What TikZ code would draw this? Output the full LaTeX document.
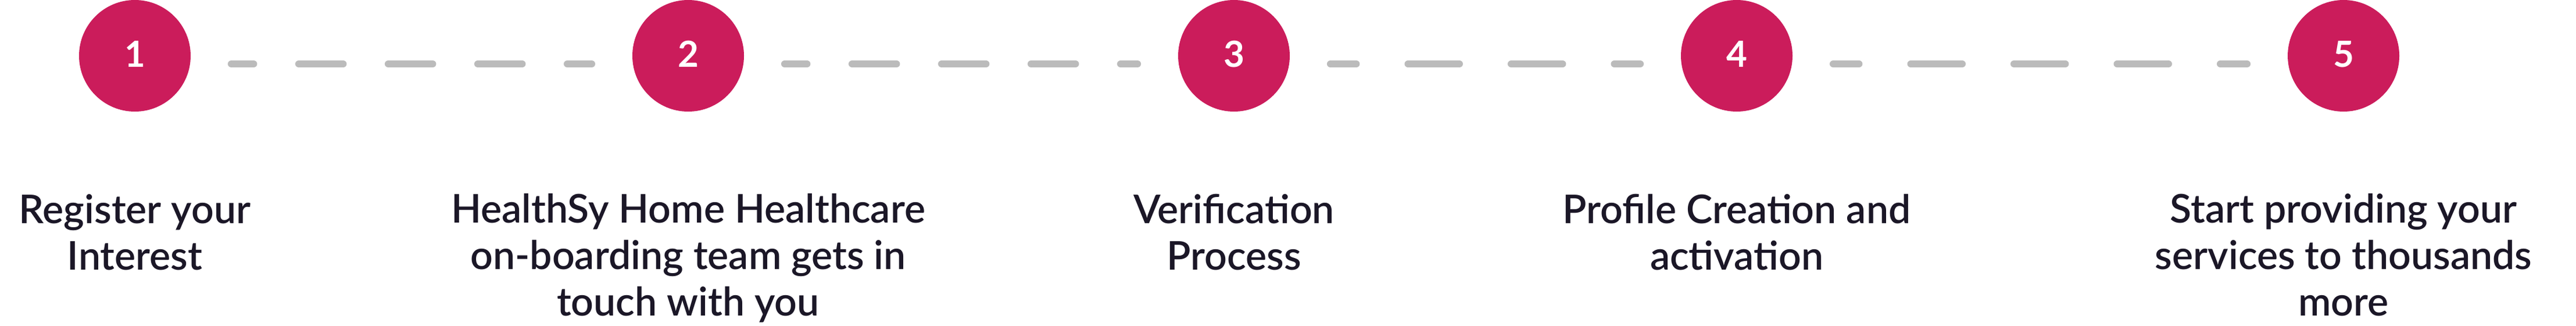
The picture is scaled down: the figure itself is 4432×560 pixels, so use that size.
\documentclass[tikz,border=0pt]{standalone}
\usepackage{fontspec}
\setmainfont{Lato}[UprightFont=* Semibold]
\newfontfamily\numfont{Lato}[UprightFont=* Bold]
\definecolor{stepred}{HTML}{CB1C5B}
\definecolor{dashgray}{HTML}{BBBBBB}
\definecolor{textdark}{HTML}{1B1727}
\begin{document}
\begin{tikzpicture}[x=1pt,y=-1pt,
  stepcircle/.style={circle, fill=stepred, minimum size=192pt, inner sep=0pt},
  stepnum/.style={text=white, font=\numfont\fontsize{62}{62}\selectfont, inner sep=0pt},
  steplabel/.style={anchor=base, align=center, text=textdark, font=\fontsize{68}{80}\selectfont, inner sep=0pt},
  linkbase/.style={draw=dashgray, line width=12.5pt, line cap=round, shorten >=70pt, shorten <=70pt},
  linkA/.style={linkbase, dash pattern=on 76pt off 78pt, dash phase=38pt},
  linkB/.style={linkbase, dash pattern=on 88pt off 89.5pt, dash phase=44pt}]
\useasboundingbox (0,0) rectangle (4432,560);
\node[stepcircle] (c1) at (232,96) {};
\node[stepcircle] (c2) at (1184,96) {};
\node[stepcircle] (c3) at (2123,96) {};
\node[stepcircle] (c4) at (2988,96) {};
\node[stepcircle] (c5) at (4032,96) {};
\node[stepnum] (n1) at (232,93) {1};
\node[stepnum] (n2) at (1184,93) {2};
\node[stepnum] (n3) at (2123,93) {3};
\node[stepnum] (n4) at (2988,93) {4};
\node[stepnum] (n5) at (4032,93) {5};
\draw[linkA] ([yshift=-14pt]c1.east) -- ([yshift=-14pt]c2.west);
\draw[linkA] ([yshift=-14pt]c2.east) -- ([yshift=-14pt]c3.west);
\draw[linkB] ([yshift=-14pt]c3.east) -- ([yshift=-14pt]c4.west);
\draw[linkB] ([yshift=-14pt]c4.east) -- ([yshift=-14pt]c5.west);
\node[steplabel] (t1) at (232,464) {Register your\\Interest};
\node[steplabel] (t2) at (1184,543) {HealthSy Home Healthcare\\on-boarding team gets in\\touch with you};
\node[steplabel] (t3) at (2123,464) {Verification\\Process};
\node[steplabel] (t4) at (2988,464) {Profile Creation and\\activation};
\node[steplabel] (t5) at (4032,543) {Start providing your\\services to thousands\\more};
\end{tikzpicture}
\end{document}
